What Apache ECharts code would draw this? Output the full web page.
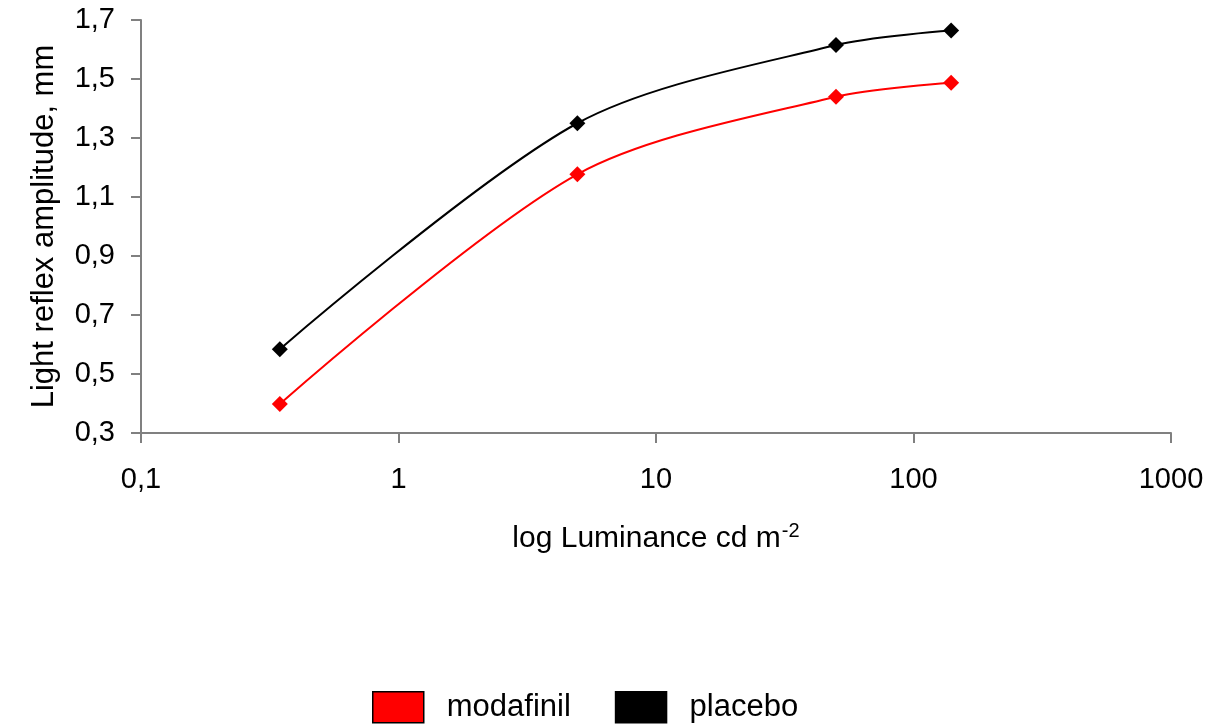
<!DOCTYPE html>
<html>
<head>
<meta charset="utf-8">
<script src="https://cdn.jsdelivr.net/npm/echarts@6/dist/echarts.min.js"></script>
<style>
html,body{margin:0;padding:0;background:#fff;}
#chart{width:1213px;height:726px;}
</style>
</head>
<body>
<div id="chart"></div>
<script>
const luminance = [0.346, 4.95, 50, 140];
const modafinil = [0.398, 1.177, 1.440, 1.487];
const placebo = [0.584, 1.350, 1.615, 1.664];
const seriesNames = ['modafinil', 'placebo'];
const yTitle = 'Light reflex amplitude, mm';
const xTitle = 'log Luminance cd m';
const xTitleSup = '-2';

const font = "'Liberation Sans', Arial, sans-serif";
const chart = echarts.init(document.getElementById('chart'));
const fmt = v => String(+v.toFixed(1)).replace('.', ',');

chart.setOption({
  backgroundColor: '#fff',
  animation: false,
  textStyle: { fontFamily: font, color: '#000' },
  grid: { left: 141, top: 20, width: 1030, height: 413, containLabel: false },
  legend: {
    data: seriesNames,
    left: 372, top: 691, padding: 0,
    icon: 'rect',
    itemWidth: 51, itemHeight: 31, itemGap: 44,
    itemStyle: { borderColor: '#000', borderWidth: 1.5 },
    textStyle: { fontSize: 31, fontFamily: font, color: '#000', padding: [0, 0, 0, 18] }
  },
  xAxis: {
    type: 'log', logBase: 10, min: 0.1, max: 1000,
    name: xTitle + '{sup|' + xTitleSup + '}',
    nameLocation: 'middle', nameGap: 88,
    nameTextStyle: {
      fontSize: 30, fontFamily: font, color: '#000',
      rich: { sup: { fontSize: 20, fontFamily: font, color: '#000', padding: [0, 0, 16, 1] } }
    },
    axisLine: { show: true, lineStyle: { color: '#808080', width: 2 } },
    axisTick: { show: true, length: 10, inside: false, lineStyle: { color: '#808080', width: 2 } },
    minorTick: { show: false },
    splitLine: { show: false },
    axisLabel: { fontSize: 29, fontFamily: font, color: '#000', margin: 32,
      formatter: v => String(v).replace('.', ',') }
  },
  yAxis: {
    type: 'value', min: 0.3, max: 1.7, interval: 0.2,
    name: yTitle, nameLocation: 'middle', nameGap: 81, nameRotate: 90,
    nameTextStyle: { fontSize: 31, fontFamily: font, color: '#000' },
    axisLine: { show: true, lineStyle: { color: '#808080', width: 2 } },
    axisTick: { show: true, length: 10, inside: false, lineStyle: { color: '#808080', width: 2 } },
    splitLine: { show: false },
    axisLabel: { fontSize: 29, fontFamily: font, color: '#000', margin: 26, formatter: fmt }
  },
  series: [
    {
      name: seriesNames[0], type: 'line', smooth: 0.3,
      data: luminance.map((x, i) => [x, modafinil[i]]),
      color: '#ff0000',
      symbol: 'diamond', symbolSize: 16,
      lineStyle: { color: '#ff0000', width: 2 },
      itemStyle: { color: '#ff0000' }
    },
    {
      name: seriesNames[1], type: 'line', smooth: 0.3,
      data: luminance.map((x, i) => [x, placebo[i]]),
      color: '#000000',
      symbol: 'diamond', symbolSize: 16,
      lineStyle: { color: '#000000', width: 2 },
      itemStyle: { color: '#000000' }
    }
  ]
});
</script>
</body>
</html>
